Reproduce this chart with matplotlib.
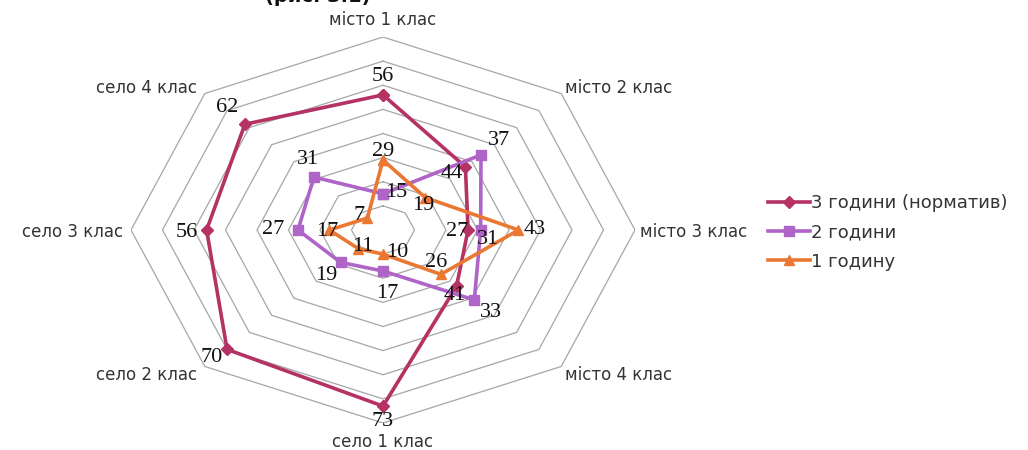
import matplotlib.pyplot as plt
import numpy as np

# категорії (за годинниковою стрілкою від верху)
categories = ["місто 1 клас", "місто 2 клас", "місто 3 клас", "місто 4 клас",
              "село 1 клас", "село 2 клас", "село 3 клас", "село 4 клас"]

series_names = ["3 години (норматив)", "2 години", "1 годину"]

# положення точок, як на малюнку
values_3h = [56, 37, 27, 33, 73, 70, 56, 62]
values_2h = [15, 44, 31, 41, 17, 19, 27, 31]
values_1h = [29, 19, 43, 26, 10, 11, 17, 7]

# підписи даних, як вони надруковані на малюнку
labels_3h = [56, 44, 27, 41, 73, 70, 56, 62]
labels_2h = [15, 37, 31, 33, 17, 19, 27, 31]
labels_1h = [29, 19, 43, 26, 10, 11, 17, 7]

rings = [10, 20, 30, 40, 50, 60, 70, 80]

colors = ["#B43264", "#AF64C8", "#EB7832"]
markers = ["D", "s", "^"]
msizes = [6, 7.5, 7.5]

# зсуви підписів у пікселях (x праворуч, y вгору)
offs_3h = [(0, 18), (-14, -7), (-11, -2), (-2, -9), (0, -15), (-15, -8), (-20, -2), (-18, 17)]
offs_2h = [(13, 1), (18, 14), (7, -10), (17, -13), (4, -22), (-14, -13), (-25, 0), (-6, 18)]
offs_1h = [(0, 9), (-2, -8), (16, 0), (-5, 12), (14, 2), (4, 2), (-2, -2), (-8, 3)]

plt.rcParams['font.family'] = ['DejaVu Sans']

n = len(categories)
theta = np.arange(n) * 2 * np.pi / n

def to_xy(vals):
    v = np.array(vals, dtype=float)
    return v * np.sin(theta), v * np.cos(theta)

fig = plt.figure(figsize=(10.28, 4.5), dpi=100)
ax = fig.add_axes([131 / 1028, 27 / 450, 504 / 1028, 386 / 450])
ax.set_xlim(-80, 80)
ax.set_ylim(-80, 80)
ax.axis("off")

# сітка-восьмикутники
for r in rings:
    gx, gy = to_xy([r] * n)
    ax.plot(np.append(gx, gx[0]), np.append(gy, gy[0]), color="#A6A6A6", lw=0.9, zorder=1)

# підписи категорій
cat_offs = [(0, 8), (4, 6), (5, -2), (4, -9), (0, -10), (-8, -9), (-8, -2), (-8, 6)]
cat_ha = ["center", "left", "left", "left", "center", "right", "right", "right"]
cat_va = ["bottom", "center", "center", "center", "top", "center", "center", "center"]
ox, oy = to_xy([80] * n)
for i, c in enumerate(categories):
    ax.annotate(c, (ox[i], oy[i]), xytext=cat_offs[i], textcoords="offset pixels",
                ha=cat_ha[i], va=cat_va[i], fontsize=12, color="#333333")

all_vals = [values_3h, values_2h, values_1h]
all_labels = [labels_3h, labels_2h, labels_1h]
all_offs = [offs_3h, offs_2h, offs_1h]

for k in range(3):
    x, y = to_xy(all_vals[k])
    ax.plot(np.append(x, x[0]), np.append(y, y[0]), color=colors[k], lw=2.6,
            marker=markers[k], ms=msizes[k], label=series_names[k], zorder=3)
    for i in range(n):
        ax.annotate(str(all_labels[k][i]), (x[i], y[i]), xytext=all_offs[k][i],
                    textcoords="offset pixels", ha="center", va="center",
                    fontsize=16, family="Liberation Serif", color="#111111", zorder=6)

fig.legend(loc="upper left", bbox_to_anchor=(752 / 1028, 1 - 178 / 450), frameon=False,
           fontsize=13, handlelength=2.3, labelspacing=0.62, handletextpad=0.05,
           labelcolor="#333333")

# обрізаний підпис зверху
fig.text(318 / 1028, 1 - 2 / 450, "(рис. 3.1)", ha="center", va="baseline",
         fontsize=14, fontweight="bold", color="#111111")

fig.savefig("out.png", dpi=100)
